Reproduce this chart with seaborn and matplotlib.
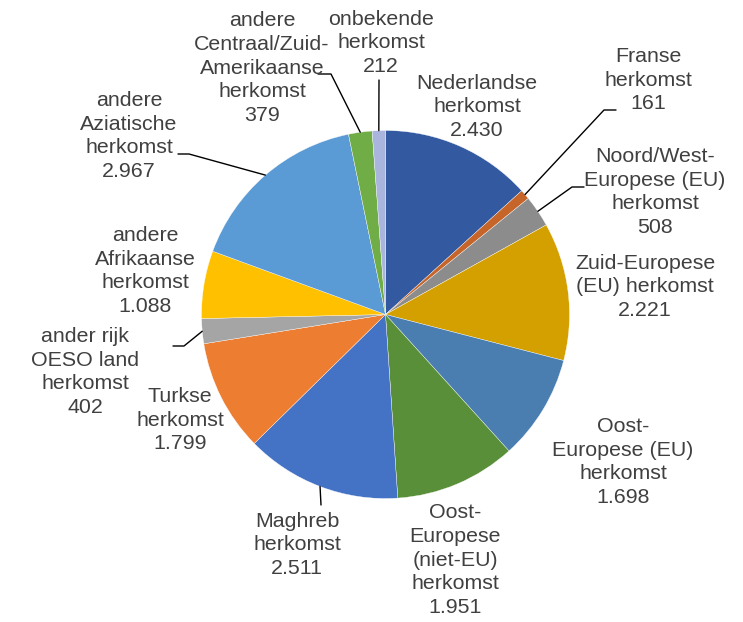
import matplotlib
matplotlib.use('Agg')
import matplotlib.pyplot as plt
import seaborn as sns
import numpy as np

# data (clockwise from 12 o'clock)
categories = [
    'Nederlandse\nherkomst',
    'Franse\nherkomst',
    'Noord/West-\nEuropese (EU)\nherkomst',
    'Zuid-Europese\n(EU) herkomst',
    'Oost-\nEuropese (EU)\nherkomst',
    'Oost-\nEuropese\n(niet-EU)\nherkomst',
    'Maghreb\nherkomst',
    'Turkse\nherkomst',
    'ander rijk\nOESO land\nherkomst',
    'andere\nAfrikaanse\nherkomst',
    'andere\nAziatische\nherkomst',
    'andere\nCentraal/Zuid-\nAmerikaanse\nherkomst',
    'onbekende\nherkomst',
]
values = [2430, 161, 508, 2221, 1698, 1951, 2511, 1799, 402, 1088, 2967, 379, 212]
colors = ['#335AA0', '#C5652A', '#8C8C8C', '#D4A000', '#4A7EB0', '#5A8F3A',
          '#4472C4', '#ED7D31', '#A5A5A5', '#FFC000', '#5B9BD5', '#70AD47', '#A9B5DD']

# label layout in pixel coords (x, y from top)
label_pos = [(477, 107), (648, 80), (655, 192), (645, 287), (623, 462), (455, 560),
             (297, 545), (180, 420), (85, 372), (145, 271), (129, 136), (262, 68), (381, 43)]
# leader line points (label side), None = no leader
leaders = [None, [(616, 110), (604, 110)], [(584, 187), (572, 187)], None, None, None,
           [(321, 505)], None, [(173, 346), (184, 346)], None,
           [(178, 154), (189, 154)], [(318, 74), (331, 74)], [(379, 80)]]

sns.set_theme(style='white')
plt.rcParams['font.family'] = ['Liberation Sans', 'DejaVu Sans']

W, H = 743, 622
fig = plt.figure(figsize=(W / 100, H / 100), dpi=100)
ax = fig.add_axes([0, 0, 1, 1])
cx, cy, r = 385.5, H - 314.5, 184

wedges, _ = ax.pie(values, colors=colors, startangle=90, counterclock=False,
                   center=(cx, cy), radius=r, frame=True,
                   wedgeprops=dict(edgecolor='white', linewidth=0.25))
ax.set_xlim(0, W)
ax.set_ylim(0, H)
ax.set_aspect('equal')
ax.axis('off')

for w, name, val, (lx, ly), lead in zip(wedges, categories, values, label_pos, leaders):
    txt = name + '\n' + f'{val:,}'.replace(',', '.')
    ax.text(lx, H - ly, txt, ha='center', va='center', fontsize=15.4,
            color='#404040', linespacing=1.32)
    if lead:
        mid = np.deg2rad((w.theta1 + w.theta2) / 2)
        ex, ey = cx + r * np.cos(mid), cy + r * np.sin(mid)
        xs = [p[0] for p in lead] + [ex]
        ys = [H - p[1] for p in lead] + [ey]
        ax.plot(xs, ys, color='black', lw=1.0)

fig.savefig('out.png', dpi=100)
